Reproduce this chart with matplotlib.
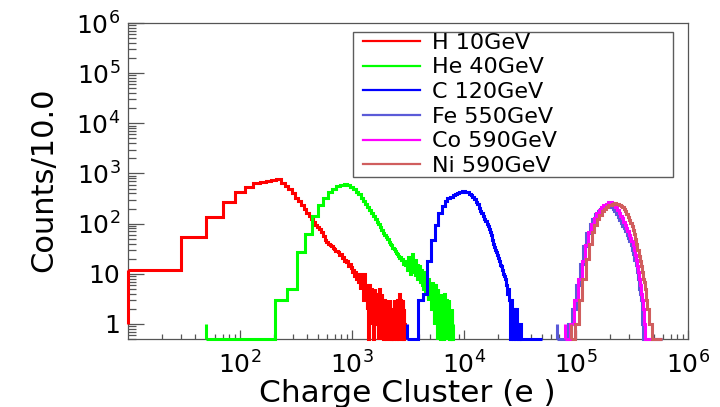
import numpy as np
import matplotlib
matplotlib.use("Agg")
import matplotlib.pyplot as plt
from matplotlib.lines import Line2D
from matplotlib.legend_handler import HandlerLine2D
from matplotlib.ticker import FixedLocator, FixedFormatter, LogLocator, NullFormatter

# ---------------- data ----------------
series_names = ["H 10GeV", "He 40GeV", "C 120GeV", "Fe 550GeV", "Co 590GeV", "Ni 590GeV"]
series_colors = ["#ff0000", "#00ff00", "#0000ff", "#5b5bd8", "#ff00ff", "#d05e5e"]

# H : bins of width 20 starting at 10
h_start, h_width = 10, 20
h_counts = [12, 54, 136, 270, 420, 525, 645, 690, 720, 755,
            760, 650, 560, 490, 400, 330, 280, 230, 195, 165,
            140, 122, 110, 95, 86, 78, 68, 56, 47, 43,
            40, 37, 35, 32, 31, 29, 28, 27, 24, 25,
            21, 22, 18, 19, 17, 18, 14, 16, 13, 14,
            11, 12, 9, 11, 8, 10, 7, 9, 5, 10,
            6, 8, 3, 7, 10, 4, 6, 2, 5, 0,
            4, 6, 3, 1, 5, 2, 4, 0, 3, 5,
            2, 4, 1, 3, 0, 4, 2, 5, 1, 3,
            0, 2, 4, 1, 3, 0, 2, 3, 0, 1,
            2, 0, 3, 1, 0, 2, 0, 1, 3, 0,
            1, 2, 0, 0, 2, 1, 0, 3, 0, 1,
            0, 2, 0, 1, 0, 2, 3, 0, 1, 0,
            2, 0, 4, 1, 0, 3, 0, 2, 0, 1,
            0, 3, 0, 0, 2, 0, 1, 0, 0, 1]

# He : one empty bin 50-205, then bins of width 58
he_low, he_start, he_width = 50, 205, 58
he_counts = [0,
             3, 5, 27, 63, 140, 230, 330, 420, 490, 560,
             600, 610, 590, 530, 480, 430, 390, 330, 280, 245,
             210, 185, 160, 140, 122, 110, 97, 86, 76, 66,
             60, 54, 49, 43, 40, 37, 33, 31, 29, 26,
             25, 23, 21, 22, 19, 20, 16, 18, 15,
             17, 12, 22, 14, 10, 18, 13, 25, 11, 15, 9, 19, 12, 8, 16, 10, 14, 7,
             9, 12, 6, 10, 5, 8, 11, 4, 7, 9, 5, 3, 8, 6, 4, 7,
             5, 2, 6, 3, 7, 4, 1, 5, 3, 6, 2, 4, 0, 3, 5, 2, 4,
             1, 3, 0, 2, 4, 1, 0, 3, 2, 0, 1, 4, 0, 2, 1, 0, 3,
             0, 1, 2, 0, 1, 3, 0, 0, 2, 1, 0, 1, 0, 2, 0, 0, 1]

# C : bins of width 400 starting at 3100
c_start, c_width = 3100, 400
c_counts = [0, 0, 3, 4, 18, 48, 95, 160, 220, 280,
            320, 345, 370, 385, 400, 420, 440, 450, 435, 420,
            390, 365, 340, 305, 275, 245, 205, 178, 160, 140,
            125, 112, 100, 90, 78, 68, 58, 48, 40, 34,
            30, 27, 24, 21, 18, 15, 14, 12, 10, 9,
            8, 7, 6, 4, 5, 3, 2, 0, 3, 1,
            2, 0, 2, 1, 0, 2, 0, 1, 0, 1,
            0, 0, 1, 0,
            0, 0, 0, 0, 0, 0, 0, 0, 0, 0,
            0, 0, 0, 0, 0, 0, 0, 0, 0, 0,
            0, 0, 0, 0, 0, 0, 0, 0, 0, 0,
            0, 0, 0, 0, 0, 0, 0, 0, 0, 0,
            0, 0, 0]

# Fe : bins of width 8000 starting at 68000
fe_start, fe_width = 68000, 8000
fe_counts = [0, 0, 1, 2, 6, 16, 35, 65, 100, 125,
             155, 180, 200, 215, 225, 232, 230, 215, 195, 175,
             155, 135, 120, 105, 90, 80, 70, 60, 52, 45,
             38, 30, 25, 19, 15, 11, 8, 5, 4, 3,
             1, 0, 0, 0, 0, 0, 0, 0, 0, 0,
             0, 0, 0, 0, 0, 0, 0, 0, 0, 0,
             0, 0, 0, 0]

# Co : bins of width 8000 starting at 80000
co_start, co_width = 80000, 8000
co_counts = [0, 1, 3, 8, 18, 38, 68, 100, 130, 160,
             185, 210, 235, 250, 265, 270, 255, 240, 215, 190,
             165, 145, 128, 110, 95, 82, 70, 60, 52, 44,
             37, 30, 24, 19, 14, 11, 8, 6, 4, 3,
             2, 1, 0, 0, 0, 0, 0, 0, 0, 0,
             0, 0, 0, 0, 0, 0, 0, 0, 0, 0,
             0, 0]

# Ni : bins of width 8000 starting at 90000
ni_start, ni_width = 90000, 8000
ni_counts = [0, 1, 3, 8, 20, 40, 68, 95, 125, 150,
             175, 200, 215, 230, 240, 248, 252, 250, 245, 238,
             225, 210, 195, 175, 155, 138, 120, 105, 88, 75,
             62, 50, 40, 30, 23, 18, 14, 11, 8, 7,
             5, 4, 3, 2, 2, 1, 1, 1, 0,
             0, 0, 0, 0, 0, 0, 0, 0, 0, 0, 0, 0, 0]

x_tick_values = [1e2, 1e3, 1e4, 1e5, 1e6]
x_tick_labels = [r"$\mathregular{10^{2}}$", r"$\mathregular{10^{3}}$", r"$\mathregular{10^{4}}$",
                 r"$\mathregular{10^{5}}$", r"$\mathregular{10^{6}}$"]
y_tick_values = [1, 10, 1e2, 1e3, 1e4, 1e5, 1e6]
y_tick_labels = ["1", "10", r"$\mathregular{10^{2}}$", r"$\mathregular{10^{3}}$",
                 r"$\mathregular{10^{4}}$", r"$\mathregular{10^{5}}$", r"$\mathregular{10^{6}}$"]
x_title = "Charge Cluster (e )"
y_title = "Counts/10.0"

# ---------------- plot ----------------
plt.rcParams["font.family"] = ["DejaVu Sans"]
fig = plt.figure(figsize=(7.2, 4.07), dpi=100)
ax = fig.add_axes([128 / 720, 68 / 407, 560 / 720, 316 / 407])

xlo, xhi = 10, 1e6
ylo, yhi = 0.5, 1e6
ax.set_xscale("log")
ax.set_yscale("log")
ax.set_xlim(xlo, xhi)
ax.set_ylim(ylo, yhi)


def lin_edges(start, width, n):
    return start + width * np.arange(n + 1)


edges_list = [
    lin_edges(h_start, h_width, len(h_counts)),
    np.concatenate([[he_low], lin_edges(he_start, he_width, len(he_counts) - 1)]),
    lin_edges(c_start, c_width, len(c_counts)),
    lin_edges(fe_start, fe_width, len(fe_counts)),
    lin_edges(co_start, co_width, len(co_counts)),
    lin_edges(ni_start, ni_width, len(ni_counts)),
]
counts_list = [h_counts, he_counts, c_counts, fe_counts, co_counts, ni_counts]

for edges, counts, col in zip(edges_list, counts_list, series_colors):
    vals = np.maximum(np.asarray(counts, dtype=float), ylo)  # empty bins drawn on the frame bottom
    ax.stairs(vals, edges, baseline=None, color=col, linewidth=2.2,
              zorder=3, clip_on=False)
    # ROOT-style opening edge of the histogram, drawn from the level 1
    ax.vlines(edges[0], 1.0, vals[0], color=col, linewidth=2.2, zorder=3, clip_on=False)

# axes styling
for s in ax.spines.values():
    s.set_color("#555555")
    s.set_linewidth(0.9)

ax.xaxis.set_major_locator(FixedLocator(x_tick_values))
ax.xaxis.set_major_formatter(FixedFormatter(x_tick_labels))
ax.xaxis.set_minor_locator(LogLocator(base=10, subs=np.arange(2, 10)))
ax.xaxis.set_minor_formatter(NullFormatter())
ax.yaxis.set_major_locator(FixedLocator(y_tick_values))
ax.yaxis.set_major_formatter(FixedFormatter(y_tick_labels))
ax.yaxis.set_minor_locator(LogLocator(base=10, subs=np.arange(2, 10)))
ax.yaxis.set_minor_formatter(NullFormatter())

ax.tick_params(axis="both", which="both", direction="in", top=False, right=False,
               color="#555555", width=0.9, labelcolor="black")
ax.tick_params(axis="y", which="major", length=11.5, pad=5.5, labelsize=18)
ax.tick_params(axis="y", which="minor", length=5.8)
ax.tick_params(axis="x", which="major", length=6.5, pad=9, labelsize=18)
ax.tick_params(axis="x", which="minor", length=3.6)

fig.text(44 / 720, 1 - 180 / 407, y_title, rotation=90, ha="center", va="center", fontsize=22)
fig.text(407 / 720, 1 - 402 / 407, x_title, ha="center", va="baseline", fontsize=22.5)

handles = [Line2D([], [], color=c, linewidth=1.6) for c in series_colors]
leg = ax.legend(handles, series_names, loc="upper left",
                bbox_to_anchor=(225 / 560, (339 - 177) / 316, 320 / 560, 145 / 316),
                mode="expand", borderaxespad=0, borderpad=0.03, labelspacing=0.21,
                handlelength=2.97, handletextpad=0.54, fontsize=16, fancybox=False,
                handler_map={Line2D: HandlerLine2D(xpad=0.4)})
leg.get_frame().set_edgecolor("#333333")
leg.get_frame().set_linewidth(1.0)
leg.set_zorder(5)

fig.savefig("out.png", dpi=100)
